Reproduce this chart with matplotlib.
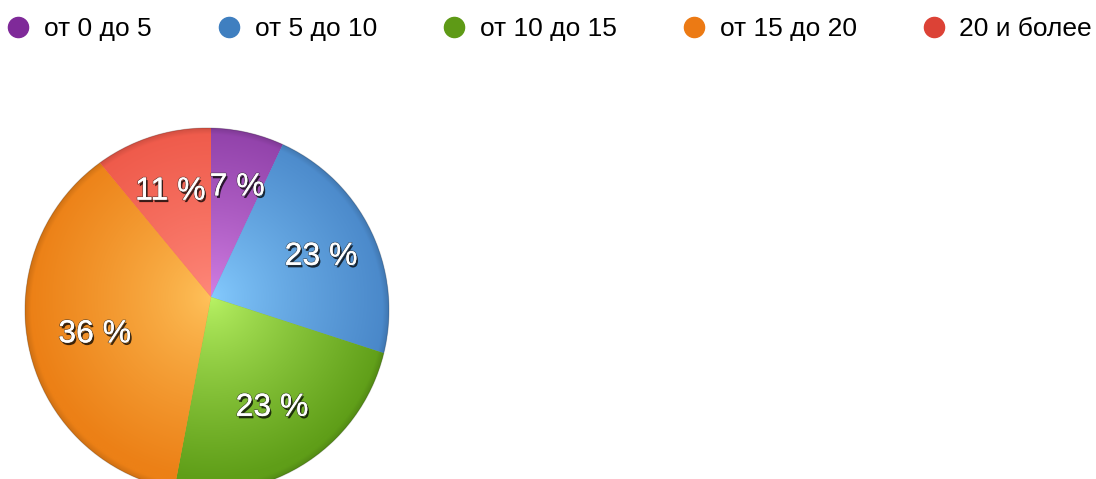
import numpy as np
import matplotlib
matplotlib.use("Agg")
import matplotlib.pyplot as plt
import matplotlib.patheffects as pe
import matplotlib.transforms as mtransforms
from matplotlib.patches import Circle
from matplotlib.lines import Line2D

plt.rcParams['font.family'] = ['Liberation Sans', 'DejaVu Sans']

# ---- data ----
categories = ["от 0 до 5", "от 5 до 10", "от 10 до 15", "от 15 до 20", "20 и более"]
values = [7, 23, 23, 36, 11]
legend_colors = ["#7f2a99", "#3f7fc0", "#5e9a16", "#ec7a14", "#dc4236"]
edge_colors = ["#8d3ea6", "#4886c8", "#5f9e18", "#ec8016", "#ee5848"]
center_colors = ["#d481e6", "#86ccff", "#baf466", "#ffc35c", "#ff8a7c"]

W, H = 1096, 479
fig = plt.figure(figsize=(W / 100, H / 100), dpi=100)
ax = fig.add_axes([0, 0, 1, 1])
ax.set_xlim(0, W)
ax.set_ylim(0, H)

apex = (211, H - 297)
circ_c = (207, H - 310)
circ_r = 182
pie_r = 198

wedges, texts, autotexts = ax.pie(
    values, colors=edge_colors, startangle=90, counterclock=False,
    center=apex, radius=pie_r, autopct=lambda p: f"{p:.0f} %",
    pctdistance=120 / pie_r, frame=True,
    wedgeprops=dict(linewidth=0),
    textprops=dict(color="white", fontsize=23, va='center_baseline'),
)
ax.set_xlim(0, W)
ax.set_ylim(0, H)
ax.set_aspect('auto')
ax.axis('off')

clip = Circle(circ_c, circ_r, transform=ax.transData, visible=False)
ax.add_patch(clip)
for w in wedges:
    w.set_clip_on(True)
    w.set_clip_path(clip)

# radial gradient shading per wedge
x0, x1 = circ_c[0] - circ_r, circ_c[0] + circ_r
y0, y1 = circ_c[1] - circ_r, circ_c[1] + circ_r
xs = np.linspace(x0, x1, 500)
ys = np.linspace(y0, y1, 500)
XX, YY = np.meshgrid(xs, ys)
d = np.hypot(XX - apex[0], YY - apex[1]) / circ_r
t = np.clip(d, 0, 1) ** 0.8
rc = np.hypot(XX - circ_c[0], YY - circ_c[1])
inside = np.clip(circ_r - rc + 0.5, 0, 1)
rim = np.clip((rc - (circ_r - 6)) / 6, 0, 1)
for w, ec, cc in zip(wedges, edge_colors, center_colors):
    e = np.array(matplotlib.colors.to_rgb(ec))
    c = np.array(matplotlib.colors.to_rgb(cc))
    rgb = c[None, None, :] * (1 - t[..., None]) + e[None, None, :] * t[..., None]
    rgb = rgb * (1 - 0.12 * rim[..., None])
    img = np.dstack([rgb, inside])
    im = ax.imshow(img, extent=(x0, x1, y0, y1), origin='lower',
                   interpolation='bilinear', zorder=w.get_zorder() + 0.1)
    im.set_clip_path(w)
ax.set_xlim(0, W)
ax.set_ylim(0, H)
ax.set_aspect('auto')
ax.add_patch(Circle(circ_c, circ_r, fill=False, edgecolor=(0, 0, 0, 0.2),
                    linewidth=0.8, zorder=3))

shift = mtransforms.offset_copy(ax.transData, fig=fig, x=0, y=-4, units='dots')
for at in autotexts:
    at.set_zorder(5)
    at.set_transform(shift)
    at.set_path_effects([
        pe.SimplePatchShadow(offset=(1.2, -1.8), shadow_rgbFace='black', alpha=0.75),
        pe.withStroke(linewidth=1.2, foreground=(0.2, 0.2, 0.2, 0.6)),
        pe.Normal(),
    ])

handles = [Line2D([], [], linestyle='none', marker='o', markersize=14.5,
                  markerfacecolor=c, markeredgecolor=c) for c in legend_colors]
fig.legend(handles, categories, loc='upper left', bbox_to_anchor=(6 / W, 1 - 17 / H),
           ncol=5, frameon=False, fontsize=19, handlelength=0.92,
           handletextpad=0.52, columnspacing=2.46, borderpad=0, borderaxespad=0)

fig.savefig("out.png", dpi=100)
